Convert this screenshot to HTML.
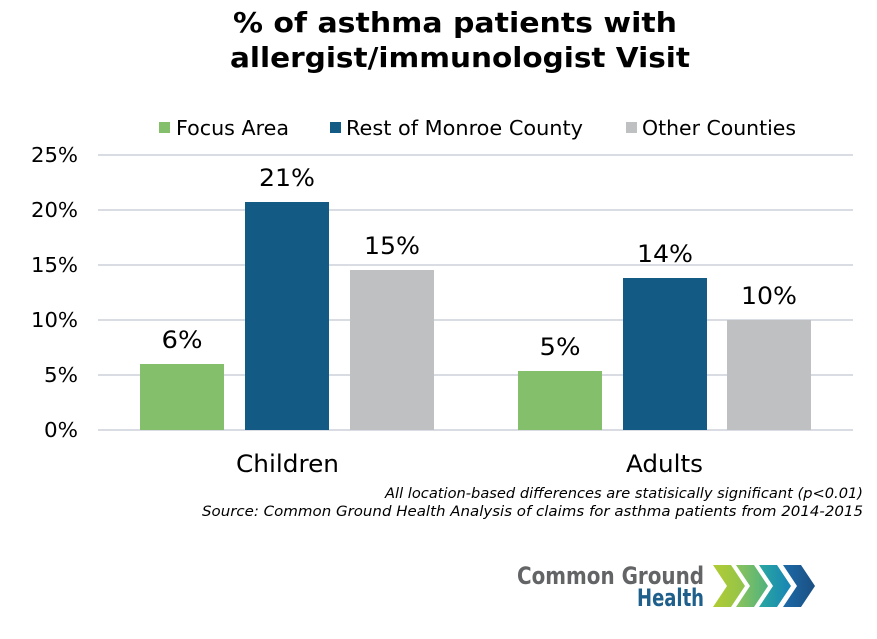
<!DOCTYPE html>
<html>
<head>
<meta charset="utf-8">
<style>
html,body{margin:0;padding:0;background:#fff;}
svg{display:block;}
text{font-family:"DejaVu Sans","Liberation Sans",sans-serif;fill:#000;}
</style>
</head>
<body>
<svg width="877" height="639" viewBox="0 0 877 639" xmlns="http://www.w3.org/2000/svg">
<defs>
<linearGradient id="c1" x1="0" x2="1" y1="0" y2="0"><stop offset="0" stop-color="#b1cc33"/><stop offset="1" stop-color="#92c34c"/></linearGradient>
<linearGradient id="c2" x1="0" x2="1" y1="0" y2="0"><stop offset="0" stop-color="#8dc45a"/><stop offset="1" stop-color="#4fb27e"/></linearGradient>
<linearGradient id="c3" x1="0" x2="1" y1="0" y2="0"><stop offset="0" stop-color="#2ba8a0"/><stop offset="1" stop-color="#1784b5"/></linearGradient>
<linearGradient id="c4" x1="0" x2="1" y1="0" y2="0"><stop offset="0" stop-color="#1c6aa8"/><stop offset="1" stop-color="#1b4f82"/></linearGradient>
</defs>

<!-- Title -->
<text x="455" y="32" font-size="28" font-weight="bold" text-anchor="middle" textLength="444" lengthAdjust="spacingAndGlyphs">% of asthma patients with</text>
<text x="460" y="67" font-size="28" font-weight="bold" text-anchor="middle" textLength="460" lengthAdjust="spacingAndGlyphs">allergist/immunologist Visit</text>

<!-- Legend -->
<rect x="159" y="122" width="11" height="11" fill="#84c06c"/>
<text x="176" y="135" font-size="20" textLength="113" lengthAdjust="spacingAndGlyphs">Focus Area</text>
<rect x="330" y="122" width="11" height="11" fill="#135b84"/>
<text x="346" y="135" font-size="20" textLength="237" lengthAdjust="spacingAndGlyphs">Rest of Monroe County</text>
<rect x="626" y="122" width="11" height="11" fill="#bfc0c2"/>
<text x="642" y="135" font-size="20" textLength="154" lengthAdjust="spacingAndGlyphs">Other Counties</text>

<!-- Gridlines -->
<g stroke="#d9dde3" stroke-width="2">
<line x1="98" y1="155" x2="853" y2="155"/>
<line x1="98" y1="210" x2="853" y2="210"/>
<line x1="98" y1="265" x2="853" y2="265"/>
<line x1="98" y1="320" x2="853" y2="320"/>
<line x1="98" y1="375" x2="853" y2="375"/>
<line x1="98" y1="430" x2="853" y2="430"/>
</g>

<!-- Y labels -->
<g font-size="20" text-anchor="end">
<text x="78" y="162" textLength="47" lengthAdjust="spacingAndGlyphs">25%</text>
<text x="78" y="217" textLength="47" lengthAdjust="spacingAndGlyphs">20%</text>
<text x="78" y="272" textLength="47" lengthAdjust="spacingAndGlyphs">15%</text>
<text x="78" y="327" textLength="47" lengthAdjust="spacingAndGlyphs">10%</text>
<text x="78" y="382" textLength="34" lengthAdjust="spacingAndGlyphs">5%</text>
<text x="78" y="437" textLength="34" lengthAdjust="spacingAndGlyphs">0%</text>
</g>

<!-- Bars -->
<rect x="140" y="364" width="84" height="66" fill="#84c06c"/>
<rect x="245" y="202" width="84" height="228" fill="#135b84"/>
<rect x="350" y="270" width="84" height="160" fill="#bfc0c2"/>
<rect x="518" y="371" width="84" height="59" fill="#84c06c"/>
<rect x="623" y="278" width="84" height="152" fill="#135b84"/>
<rect x="727" y="320" width="84" height="110" fill="#bfc0c2"/>

<!-- Data labels -->
<g font-size="24" text-anchor="middle">
<text x="182" y="348" textLength="41" lengthAdjust="spacingAndGlyphs">6%</text>
<text x="287" y="186" textLength="56" lengthAdjust="spacingAndGlyphs">21%</text>
<text x="392" y="254" textLength="56" lengthAdjust="spacingAndGlyphs">15%</text>
<text x="560" y="355" textLength="41" lengthAdjust="spacingAndGlyphs">5%</text>
<text x="665" y="262" textLength="56" lengthAdjust="spacingAndGlyphs">14%</text>
<text x="769" y="304" textLength="56" lengthAdjust="spacingAndGlyphs">10%</text>
</g>

<!-- Category labels -->
<text x="287.5" y="472" font-size="24" text-anchor="middle" textLength="103" lengthAdjust="spacingAndGlyphs">Children</text>
<text x="664.5" y="472" font-size="24" text-anchor="middle" textLength="77" lengthAdjust="spacingAndGlyphs">Adults</text>

<!-- Footnotes -->
<text x="863" y="498" font-size="14.5" font-style="italic" text-anchor="end" textLength="478" lengthAdjust="spacingAndGlyphs">All location-based differences are statisically significant (p&lt;0.01)</text>
<text x="863" y="516" font-size="14.5" font-style="italic" text-anchor="end" textLength="661" lengthAdjust="spacingAndGlyphs">Source: Common Ground Health Analysis of claims for asthma patients from 2014-2015</text>

<!-- Logo -->
<text x="517" y="584" font-size="24" font-weight="bold" style="fill:#636466" textLength="187" lengthAdjust="spacingAndGlyphs">Common Ground</text>
<text x="637" y="606" font-size="24" font-weight="bold" style="fill:#1f5f8b" textLength="67" lengthAdjust="spacingAndGlyphs">Health</text>

<g>
<polygon points="713,565 731,565 745,586 731,607 713,607 727,586" fill="url(#c1)"/>
<polygon points="736,565 754,565 768,586 754,607 736,607 750,586" fill="url(#c2)"/>
<polygon points="759,565 777,565 791,586 777,607 759,607 773,586" fill="url(#c3)"/>
<polygon points="783,565 801,565 815,586 801,607 783,607 797,586" fill="url(#c4)"/>
</g>
</svg>
</body>
</html>
